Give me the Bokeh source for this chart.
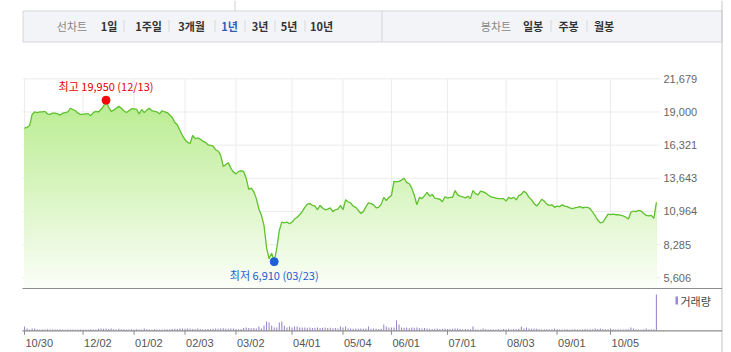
import numpy as np
from bokeh.plotting import figure
from bokeh.models import Range1d
from bokeh.core.properties import value
from bokeh.embed import file_html
from bokeh.resources import INLINE

# ---------------- data ----------------
price = [
    17700, 17750, 17900, 18800, 19000, 18950, 19000, 19000, 19050, 18850,
    18800, 18900, 18900, 18850, 18750, 18900, 18950, 19000, 19300, 19200,
    19100, 18900, 18800, 18800, 18850, 18850, 18700, 18950, 19050, 19000,
    19200, 19450, 19950, 19400, 19050, 19150, 19300, 19450, 19300, 19100,
    18950, 19100, 19250, 19250, 19200, 18850, 19200, 18950, 19150, 19300,
    19100, 19050, 19000, 18850, 19100, 19000, 18950, 18750, 18550, 18150,
    17950, 17500, 17100, 16750, 16550, 16450, 17100, 16850, 16900, 16800,
    16650, 16550, 16350, 16300, 16250, 15950, 15850, 15500, 14600, 14750,
    14900, 14450, 14150, 14000, 14200, 14250, 14200, 13650, 12750, 12850,
    12550, 12000, 11150, 10650, 9830, 8050, 7140, 7590, 6910, 7970,
    9430, 10100, 10050, 10100, 9970, 10100, 10350, 10500, 10700, 10950,
    11300, 11550, 11600, 11450, 11400, 11100, 11450, 11250, 11100, 11150,
    11250, 10950, 11100, 11150, 11450, 11100, 11900, 11750, 11650, 11400,
    11300, 11050, 10800, 10950, 11350, 11650, 11600, 11500, 11250, 11300,
    11550, 12100, 11850, 12100, 12250, 13400, 13350, 13400, 13500, 13650,
    13300, 13200, 12850, 12250, 11500, 12100, 12000, 12250, 12500, 12200,
    12350, 12050, 12000, 11950, 11750, 12150, 12050, 12100, 12100, 12650,
    12300, 12200, 12150, 12050, 12200, 12000, 12650, 12400, 12300, 12600,
    12550, 12450, 12300, 12150, 12100, 12050, 12000, 12000, 12000, 11800,
    12100, 12000, 12100, 11900, 12250, 12350, 12600, 12450, 12100, 11900,
    11600, 11400, 11650, 11950, 11800, 11550, 11450, 11500, 11300, 11400,
    11350, 11500, 11400, 11350, 11250, 11200, 11250, 11300, 11350, 11250,
    11300, 11300, 11200, 10900, 10600, 10250, 10050, 10100, 10400, 10750,
    10700, 10750, 10700, 10700, 10650, 10600, 10500, 10350, 10900, 11000,
    10950, 11050, 11000, 10800, 10650, 10600, 10650, 10400, 11700,
]

volume = [  # thousand shares
    430, 230, 130, 230, 230, 130, 140, 120, 130, 150,
    130, 120, 140, 130, 150, 120, 110, 140, 130, 120,
    100, 120, 130, 140, 120, 130, 150, 140, 130, 200,
    230, 200, 230, 180, 230, 150, 140, 200, 160, 150,
    140, 130, 150, 140, 150, 130, 140, 230, 150, 140,
    130, 150, 120, 130, 140, 130, 150, 160, 180, 200,
    190, 230, 230, 200, 230, 210, 180, 160, 230, 170,
    160, 150, 170, 180, 200, 230, 210, 230, 250, 200,
    200, 230, 230, 180, 160, 170, 270, 330, 270, 250,
    270, 230, 430, 230, 530, 930, 830, 530, 330, 330,
    830, 930, 500, 330, 430, 330, 430, 430, 330, 330,
    330, 300, 330, 270, 300, 330, 270, 300, 330, 270,
    300, 250, 270, 230, 430, 330, 430, 230, 230, 200,
    230, 200, 230, 200, 230, 430, 200, 230, 200, 180,
    200, 630, 430, 330, 330, 330, 1030, 630, 330, 300,
    330, 250, 330, 300, 330, 250, 230, 280, 230, 200,
    180, 200, 230, 180, 200, 230, 180, 170, 200, 230,
    230, 180, 150, 170, 160, 150, 430, 130, 130, 130,
    230, 150, 140, 150, 130, 140, 150, 130, 180, 150,
    200, 130, 180, 150, 200, 430, 230, 330, 230, 200,
    230, 200, 150, 140, 160, 150, 140, 160, 230, 150,
    140, 130, 140, 150, 130, 140, 150, 130, 140, 150,
    180, 130, 160, 150, 230, 180, 230, 170, 150, 140,
    230, 150, 140, 150, 130, 140, 150, 160, 330, 230,
    150, 140, 130, 150, 230, 140, 150, 160, 3630,
]

tick_index = [0, 23, 43, 63, 83, 105, 125, 144, 166, 189, 209, 230]
tick_labels = ["10/30", "12/02", "01/02", "02/03", "03/02", "04/01",
               "05/04", "06/01", "07/01", "08/03", "09/01", "10/05"]
price_ticks = [5606, 8285, 10964, 13643, 16321, 19000, 21679]
high_date = "12/13"
low_date = "03/23"
line_tabs_title = "선차트"
line_tabs = ["1일", "1주일", "3개월", "1년", "3년", "5년", "10년"]
candle_tabs_title = "봉차트"
candle_tabs = ["일봉", "주봉", "월봉"]
selected_tab = "1년"
volume_label = "거래량"

assert len(price) == len(volume)

# ---------------- layout constants (pixels) ----------------
W, H = 731, 352
X0_PX, STEP_PX = 24.0, 2.548          # index 0 position, px per trading day
TOP_PX, BOT_PX = 78.3, 277.3          # pixel rows of top / bottom price ticks
PANEL_BOTTOM_PX = 288.0
VOL_BASE_PX = 330.3
VOL_PER_PX = 100.0
GRID_L, GRID_R = 22, 660
BORDER_R = 721.5

p_top, p_bot = max(price_ticks), min(price_ticks)
ppp = (p_top - p_bot) / (BOT_PX - TOP_PX)     # price per pixel
y_end = p_top + TOP_PX * ppp
y_start = p_bot - (H - BOT_PX) * ppp
fill_floor = p_bot - (PANEL_BOTTOM_PX - BOT_PX) * ppp

x_start = -X0_PX / STEP_PX
x_end = (W - X0_PX) / STEP_PX

p = figure(width=W, height=H, title=None,
           x_range=Range1d(x_start, x_end), y_range=Range1d(y_start, y_end),
           output_backend="svg", toolbar_location=None,
           x_axis_location=None, y_axis_location=None,
           min_border=0, min_border_left=0, min_border_right=0,
           min_border_top=0, min_border_bottom=0,
           outline_line_color=None, background_fill_color="white",
           border_fill_color="white")
p.grid.visible = False
p.extra_x_ranges = {"px": Range1d(0, W)}
p.extra_y_ranges = {"pxy": Range1d(H, 0),
                    "vol": Range1d(-(H - VOL_BASE_PX) * VOL_PER_PX,
                                   VOL_BASE_PX * VOL_PER_PX)}

KR = value("Noto Sans CJK KR")
NUM = value("Liberation Sans")

# ---------------- tab bar ----------------
p.quad(left=[22.5], right=[BORDER_R], top=[10.5], bottom=[41.5],
       x_range_name="px", y_range_name="pxy",
       fill_color="#f3f4f7", line_color="#d3d6db", line_width=1)
p.segment(x0=[381.5], x1=[381.5], y0=[10.5], y1=[41.5],
          x_range_name="px", y_range_name="pxy", line_color="#d3d6db")
p.segment(x0=[234.5], x1=[234.5], y0=[0], y1=[10.5],
          x_range_name="px", y_range_name="pxy", line_color="#cfcfcf")

line_tab_x = [108.5, 148, 191, 229, 259.5, 288.5, 321]
line_sep_x = [123.5, 168.5, 214.5, 244.5, 274.5, 304.5]
candle_tab_x = [532.5, 568, 603.5]
candle_sep_x = [550.5, 586.5]
TAB_Y = 25.5

p.text(x=[71.5, 495.5], y=[TAB_Y, TAB_Y], text=[line_tabs_title, candle_tabs_title],
       x_range_name="px", y_range_name="pxy", text_align="center",
       text_baseline="middle", text_font=KR, text_font_size="11px",
       text_color="#888888")
tab_text = line_tabs + candle_tabs
tab_x = line_tab_x + candle_tab_x
tab_col = ["#2e5ec4" if t == selected_tab else "#333333" for t in tab_text]
p.text(x=tab_x, y=[TAB_Y] * len(tab_x), text=tab_text, color=tab_col,
       x_range_name="px", y_range_name="pxy", text_align="center",
       text_baseline="middle", text_font=KR, text_font_size="11px",
       text_font_style="bold")
seps = line_sep_x + candle_sep_x
p.segment(x0=seps, x1=seps, y0=[19.5] * len(seps), y1=[31.5] * len(seps),
          x_range_name="px", y_range_name="pxy", line_color="#d8d8d8")

# right border
p.segment(x0=[BORDER_R], x1=[BORDER_R], y0=[0], y1=[H],
          x_range_name="px", y_range_name="pxy", line_color="#c4c4c4")

# ---------------- price grid ----------------
p.segment(x0=[GRID_L] * len(price_ticks), x1=[GRID_R] * len(price_ticks),
          y0=price_ticks, y1=price_ticks, x_range_name="px",
          line_color="#ececec", line_width=1)
p.segment(x0=tick_index, x1=tick_index, y0=[TOP_PX] * len(tick_index),
          y1=[PANEL_BOTTOM_PX] * len(tick_index), y_range_name="pxy",
          line_color="#ececec", line_width=1)

p.text(x=[663] * len(price_ticks), y=price_ticks,
       text=[f"{t:,}" for t in price_ticks], x_range_name="px",
       text_align="left", text_baseline="middle", text_font=NUM,
       text_font_size="11px", text_color="#666666")

# ---------------- gradient area + line ----------------
idx = np.arange(len(price))
pr = np.array(price, dtype=float)
top_rgb = np.array([0xb2, 0xea, 0x84])
bot_rgb = np.array([0xfb, 0xfe, 0xf8])
n_layers = 44
caps = np.linspace(fill_floor, p_top, n_layers + 1)[1:]
for k in range(n_layers - 1, -1, -1):
    frac = (caps[k] - 0.5 * (caps[1] - caps[0]) - fill_floor) / (p_top - fill_floor)
    c = np.round(bot_rgb + (top_rgb - bot_rgb) * frac).astype(int)
    col = "#%02x%02x%02x" % tuple(c)
    p.varea(x=idx, y1=np.full(len(idx), fill_floor), y2=np.minimum(pr, caps[k]),
            fill_color=col, fill_alpha=1.0)

p.line(idx, pr, line_color="#5fc22e", line_width=1.3)

# high / low markers
i_hi = int(np.argmax(pr))
i_lo = int(np.argmin(pr))
hi, lo = price[i_hi], price[i_lo]
p.scatter([i_hi], [hi], size=8, color="#f00a0a", line_color="#f00a0a")
p.scatter([i_lo], [lo], size=8, color="#1d5fd8", line_color="#1d5fd8")
p.text(x=[i_hi], y=[hi], text=[f"최고 {hi:,} ({high_date})"], y_offset=-14,
       text_align="center", text_baseline="middle", text_font=KR,
       text_font_size="11px", text_color="#e60000")
p.text(x=[i_lo], y=[lo], text=[f"최저 {lo:,} ({low_date})"], y_offset=13,
       text_align="center", text_baseline="middle", text_font=KR,
       text_font_size="11px", text_color="#1d5bd0")

# price panel bottom line
p.segment(x0=[GRID_L], x1=[BORDER_R], y0=[PANEL_BOTTOM_PX], y1=[PANEL_BOTTOM_PX],
          x_range_name="px", y_range_name="pxy", line_color="#8c8c8c", line_width=1.2)

# ---------------- volume ----------------
p.vbar(x=idx, top=volume, bottom=0, width=0.42, y_range_name="vol",
       fill_color="#9a87cc", line_color=None)
p.segment(x0=[GRID_L], x1=[BORDER_R], y0=[VOL_BASE_PX], y1=[VOL_BASE_PX],
          x_range_name="px", y_range_name="pxy", line_color="#8c8c8c", line_width=1.2)
p.segment(x0=tick_index, x1=tick_index, y0=[VOL_BASE_PX] * len(tick_index),
          y1=[VOL_BASE_PX + 4] * len(tick_index), y_range_name="pxy",
          line_color="#8c8c8c")
p.text(x=tick_index, y=[342] * len(tick_index), text=tick_labels, x_offset=1,
       y_range_name="pxy", text_align="left", text_baseline="middle",
       text_font=NUM, text_font_size="11px", text_color="#555555")

# volume legend
p.quad(left=[675], right=[677.5], top=[296], bottom=[304],
       x_range_name="px", y_range_name="pxy", fill_color="#9a87cc", line_color=None)
p.text(x=[680], y=[300.5], text=[volume_label], x_range_name="px", y_range_name="pxy",
       text_align="left", text_baseline="middle", text_font=KR,
       text_font_size="11px", text_color="#444444")

open("out.html", "w").write(file_html(p, INLINE))
